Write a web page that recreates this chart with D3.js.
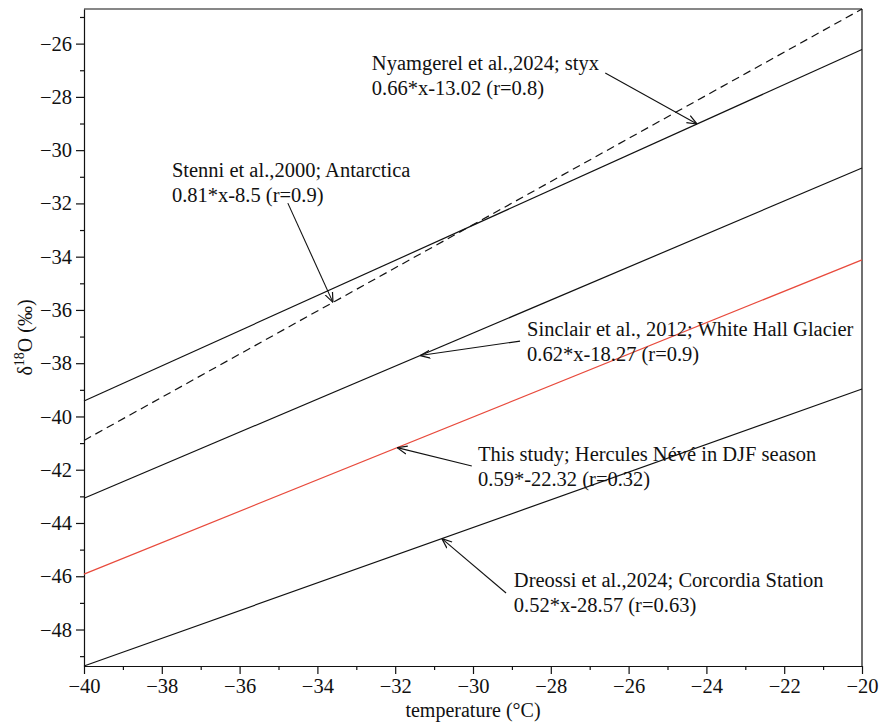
<!DOCTYPE html>
<html>
<head>
<meta charset="utf-8">
<script src="https://cdn.jsdelivr.net/npm/d3@7"></script>
<style>
  body { margin: 0; background: #fff; }
  text { font-family: "Liberation Serif", "Times New Roman", serif; fill: #111; }
</style>
</head>
<body>
<div id="chart-area"></div>
<script>
// regression lines: d18O = slope * T + intercept
var names = ["Nyamgerel", "Stenni", "Sinclair", "ThisStudy", "Dreossi"];
var slopes = [0.66, 0.81, 0.62, 0.59, 0.52];
var intercepts = [-13.02, -8.5, -18.27, -22.32, -28.57];
var labels1 = [
    "Nyamgerel et al.,2024; styx",
    "Stenni et al.,2000; Antarctica",
    "Sinclair et al., 2012; White Hall Glacier",
    "This study; Hercules Névé in DJF season",
    "Dreossi et al.,2024; Corcordia Station"
];
var labels2 = [
    "0.66*x-13.02 (r=0.8)",
    "0.81*x-8.5 (r=0.9)",
    "0.62*x-18.27 (r=0.9)",
    "0.59*-22.32 (r=0.32)",
    "0.52*x-28.57 (r=0.63)"
];
// where each arrow touches its line (temperature)
var arrowTipT = [-24.24, -33.6, -31.36, -31.95, -30.8];
// annotation text anchor (temperature, d18O)
var textT = [-32.6, -37.74, -28.61, -29.87, -28.95];
var textY = [-27.0, -30.99, -36.98, -41.66, -46.42];
// arrow tail (temperature, d18O)
var tailT = [-26.6, -34.76, -28.79, -30.03, -29.15];
var tailY = [-27.1, -31.99, -37.17, -41.86, -46.63];

var xTicks = [-40, -38, -36, -34, -32, -30, -28, -26, -24, -22, -20];
var yTicks = [-48, -46, -44, -42, -40, -38, -36, -34, -32, -30, -28, -26];
var xDomain = [-40, -20];
var yDomain = [-49.37, -24.7];

var margin = { left: 84, right: 18, top: 9, bottom: 58 };
var width = 880 - margin.left - margin.right;
var height = 724 - margin.top - margin.bottom;

var svg = d3.select("#chart-area")
    .append("svg")
    .attr("width", 880)
    .attr("height", 724);

var defs = svg.append("defs");
defs.append("marker")
    .attr("id", "arrow")
    .attr("viewBox", "0 0 10 10")
    .attr("refX", 10)
    .attr("refY", 5)
    .attr("markerWidth", 10)
    .attr("markerHeight", 10)
    .attr("markerUnits", "userSpaceOnUse")
    .attr("orient", "auto")
    .append("path")
    .attr("d", "M0,1 L10,5 L0,9")
    .attr("fill", "none")
    .attr("stroke", "#111")
    .attr("stroke-width", 1.2);

var g = svg.append("g")
    .attr("transform", "translate(" + margin.left + "," + margin.top + ")");

var x = d3.scaleLinear().domain(xDomain).range([0, width]);
var y = d3.scaleLinear().domain(yDomain).range([height, 0]);

// minor ticks
var xMinor = d3.range(-39, -20, 2);
var yMinor = d3.range(-49, -24, 2);

g.append("g")
    .attr("class", "x minor")
    .attr("transform", "translate(0," + height + ")")
    .call(d3.axisBottom(x).tickValues(xMinor).tickSize(4).tickFormat(""))
    .call(function(s) { s.select(".domain").remove(); });

g.append("g")
    .attr("class", "y minor")
    .call(d3.axisLeft(y).tickValues(yMinor).tickSize(4).tickFormat(""))
    .call(function(s) { s.select(".domain").remove(); });

var fmt = function(d) { return d3.format("d")(d).replace("-", "\u2212"); };

g.append("g")
    .attr("class", "x axis")
    .attr("transform", "translate(0," + height + ")")
    .call(d3.axisBottom(x).tickValues(xTicks).tickSize(8).tickSizeOuter(0).tickPadding(4).tickFormat(fmt));

g.append("g")
    .attr("class", "y axis")
    .call(d3.axisLeft(y).tickValues(yTicks).tickSize(8).tickSizeOuter(0).tickPadding(4).tickFormat(fmt));

svg.selectAll(".axis text")
    .attr("font-size", "20.5px")
    .attr("font-family", "Liberation Serif, serif")
    .attr("fill", "#111");
svg.selectAll(".axis line, .minor line, .axis .domain").attr("stroke", "#111").attr("stroke-width", 1.2);

// frame top/right
g.append("line").attr("x1", 0).attr("x2", width).attr("y1", 0).attr("y2", 0)
    .attr("stroke", "#111").attr("stroke-width", 1.2);
g.append("line").attr("x1", width).attr("x2", width).attr("y1", 0).attr("y2", height)
    .attr("stroke", "#111").attr("stroke-width", 1.2);

// regression lines
var lineData = names.map(function(n, i) {
    return {
        name: n,
        pts: xDomain.map(function(t) { return [t, slopes[i] * t + intercepts[i]]; })
    };
});

var line = d3.line()
    .x(function(d) { return x(d[0]); })
    .y(function(d) { return y(d[1]); });

g.selectAll(".reg")
    .data(lineData)
    .enter()
    .append("path")
    .attr("class", "reg")
    .attr("d", function(d) { return line(d.pts); })
    .attr("fill", "none")
    .attr("stroke", function(d) { return d.name == "ThisStudy" ? "#e84a3c" : "#111"; })
    .attr("stroke-width", 1.2)
    .attr("stroke-dasharray", function(d) { return d.name == "Stenni" ? "8,5" : null; });

// annotations
names.forEach(function(n, i) {
    var tipY = slopes[i] * arrowTipT[i] + intercepts[i];
    g.append("line")
        .attr("x1", x(tailT[i]))
        .attr("y1", y(tailY[i]))
        .attr("x2", x(arrowTipT[i]))
        .attr("y2", y(tipY))
        .attr("stroke", "#111")
        .attr("stroke-width", 1.1)
        .attr("marker-end", "url(#arrow)");

    var txt = g.append("text")
        .attr("x", x(textT[i]))
        .attr("y", y(textY[i]))
        .attr("font-size", "20.5px");
    txt.append("tspan").attr("x", x(textT[i])).text(labels1[i]);
    txt.append("tspan").attr("x", x(textT[i])).attr("dy", 25).text(labels2[i]);
});

// axis labels
svg.append("text")
    .attr("x", margin.left + width / 2)
    .attr("y", 717)
    .attr("text-anchor", "middle")
    .attr("font-size", "20px")
    .text("temperature (°C)");

var yl = svg.append("text")
    .attr("transform", "translate(32," + (margin.top + height / 2) + ") rotate(-90)")
    .attr("text-anchor", "middle")
    .attr("font-size", "20px");
yl.append("tspan").text("δ");
yl.append("tspan").attr("dy", -8).attr("font-size", "14px").text("18");
yl.append("tspan").attr("dy", 8).text("O (‰)");
</script>
</body>
</html>
